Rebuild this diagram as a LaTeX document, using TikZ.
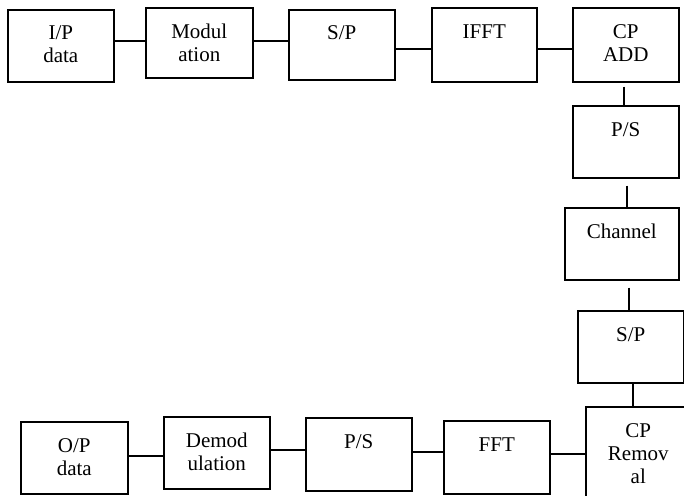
\documentclass[tikz,border=0pt]{standalone}
\usepackage{fontspec}
\setmainfont{Liberation Serif}
\usetikzlibrary{calc}
\begin{document}
\begin{tikzpicture}[x=1pt,y=-1pt,line width=1.6pt,
  blk/.style={draw,line width=1.6pt,inner sep=0pt,anchor=north west},
  lbl/.style={font=\fontsize{21}{23}\selectfont,align=center,anchor=base,inner sep=0pt},
  wire/.style={line width=1.6pt}]
\useasboundingbox (0,0) rectangle (684,495);
% #7 = number of text lines minus one (base anchor is on the last line)
\newcommand\mybox[7]{%
  \node[blk,minimum width=#4pt-#2pt,minimum height=#5pt-#3pt] (#1) at (#2,#3) {};
  \node[lbl] (#1t) at ($(#1.north)+(0,31+23*#7)$) {#6};}
% top row
\mybox{ip}{7}{9}{113}{81}{I/P\\data}{1}
\mybox{mod}{145}{7}{252}{77}{Modul\\ation}{1}
\mybox{spa}{288}{9}{394}{79}{S/P}{0}
\mybox{ifft}{431}{7}{536}{81}{IFFT}{0}
\mybox{cpadd}{572}{7}{678}{81}{CP\\ADD}{1}
% right column
\mybox{psa}{572}{105}{678}{177}{P/S}{0}
\mybox{chan}{564}{207}{678}{279}{Channel}{0}
\mybox{spb}{577}{310}{683}{382}{S/P}{0}
\mybox{cprem}{585}{406}{690}{500}{CP\\Remov\\al}{2}
% bottom row
\mybox{fft}{443}{420}{549}{493}{FFT}{0}
\mybox{psb}{305}{417}{411}{490}{P/S}{0}
\mybox{demod}{163}{416}{269}{488}{Demod\\ulation}{1}
\mybox{op}{20}{421}{127}{493}{O/P\\data}{1}
% connectors
\draw[wire] (ip.east |- 0,41) -- (mod.west |- 0,41);
\draw[wire] (mod.east |- 0,41) -- (spa.west |- 0,41);
\draw[wire] (spa.east |- 0,49) -- (ifft.west |- 0,49);
\draw[wire] (ifft.east |- 0,49) -- (cpadd.west |- 0,49);
\draw[wire,shorten <=4pt] (cpadd.south -| 624,0) -- (psa.north -| 624,0);
\draw[wire,shorten <=7pt] (psa.south -| 627,0) -- (chan.north -| 627,0);
\draw[wire,shorten <=7pt] (chan.south -| 629,0) -- (spb.north -| 629,0);
\draw[wire] (spb.south -| 633,0) -- (cprem.north -| 633,0);
\draw[wire] (cprem.west |- 0,454) -- (fft.east |- 0,454);
\draw[wire] (fft.west |- 0,452) -- (psb.east |- 0,452);
\draw[wire] (psb.west |- 0,450) -- (demod.east |- 0,450);
\draw[wire] (demod.west |- 0,456) -- (op.east |- 0,456);
\end{tikzpicture}
\end{document}
